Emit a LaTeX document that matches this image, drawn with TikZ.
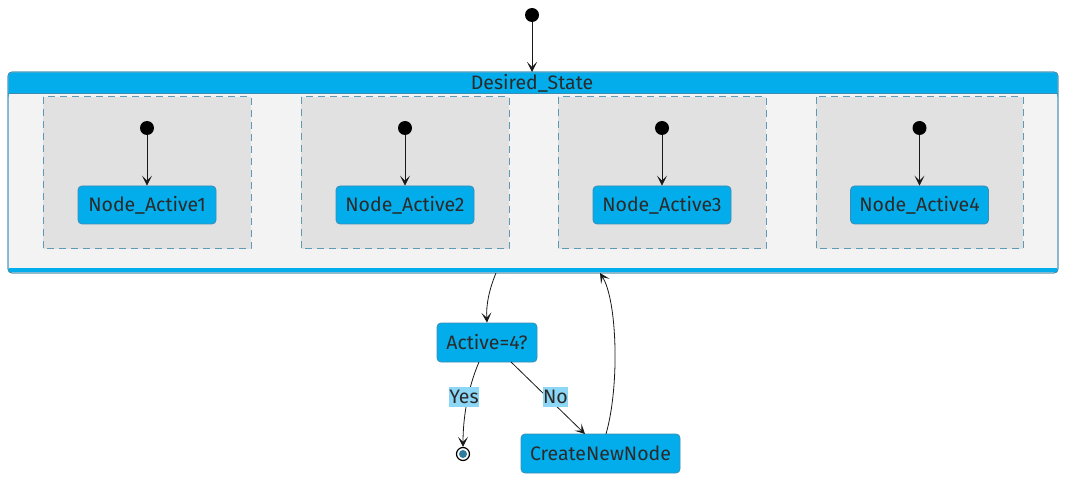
\documentclass[tikz,border=0pt]{standalone}
\usepackage{fontspec}
\setmainfont{Fira Sans}
\usetikzlibrary{arrows.meta}
\definecolor{pblue}{HTML}{03ADEB}
\definecolor{pborder}{HTML}{3C8DB4}
\definecolor{dashc}{HTML}{5E9AB8}
\definecolor{bodyc}{HTML}{F3F3F3}
\definecolor{regc}{HTML}{E1E1E1}
\definecolor{txt}{HTML}{2A2A2A}
\definecolor{lblbg}{HTML}{8CD6F6}
\definecolor{finc}{HTML}{2E7BA0}
\tikzset{
  x=1pt,y=-1pt,
  statebox/.style={draw=pborder, fill=pblue, rounded corners=4pt, line width=0.8pt,
     text=txt, font=\fontsize{19.5}{19.5}\selectfont, inner sep=0pt},
  initdot/.style={circle, fill=black, minimum size=14pt, inner sep=0pt},
  arr/.style={draw=black!90, line width=0.8pt, -{Stealth[length=10pt,width=10pt,inset=5pt]}},
  edgelbl/.style={fill=lblbg, text=txt, font=\fontsize{19.5}{19.5}\selectfont, inner sep=0.5pt, minimum height=20pt},
  region/.style={draw=dashc, fill=regc, dash pattern=on 7pt off 5pt, line width=1pt},
}
\begin{document}
\begin{tikzpicture}
\useasboundingbox (0,0) rectangle (1066,481);
% composite state
\draw[draw=pborder, fill=bodyc, rounded corners=4pt, line width=0.8pt] (8,72) rectangle (1058,273);
\fill[pblue, rounded corners=4pt] (8.4,72.4) rectangle (1057.6,100);
\fill[bodyc] (8.8,93) rectangle (1057.2,100);
\draw[pborder, line width=0.8pt] (8,93) -- (1058,93);
\fill[pblue] (9,268.5) rectangle (1057,272.5);
\draw[draw=pborder, rounded corners=4pt, line width=0.8pt] (8,72) rectangle (1058,273);
\node[text=txt, font=\fontsize{19.5}{19.5}\selectfont] (dstitle) at (532,83) {Desired\_State};
\coordinate (dsTop) at (532,72);
\coordinate (dsBotL) at (496,273);
\coordinate (dsBotR) at (600,273);
% regions
\foreach \i/\xa/\xb in {1/43/251, 2/301/509, 3/558/766, 4/816/1023}{
  \draw[region] (\xa,97) rectangle (\xb,249);
  \node[initdot] (init\i) at ({(\xa+\xb)/2},128) {};
  \node[statebox, minimum width=138pt, minimum height=38pt] (na\i) at ({(\xa+\xb)/2},205) {Node\_Active\i};
  \draw[arr] (init\i) -- (na\i);
}
% top initial
\node[initdot] (init0) at (532,15) {};
\draw[arr] (init0) -- (dsTop);
% lower nodes
\node[statebox, minimum width=100pt, minimum height=39pt] (act) at (487,342.5) {Active=4?};
\node[statebox, minimum width=159pt, minimum height=39pt] (cnn) at (600.5,453.5) {CreateNewNode};
\node[circle, draw=black, line width=1.2pt, fill=white, minimum size=13pt, inner sep=0pt] (fin) at (463,454) {};
\fill[finc] (fin.center) circle (4pt);
\coordinate (actYes) at (479,362);
\coordinate (actNo) at (511,362);
\coordinate (cnnIn) at (585,434);
\coordinate (cnnOut) at (606,434);
% edges
\draw[arr] (dsBotL) .. controls (489,290) and (486,305) .. (act.north);
\draw[arr] (actYes) .. controls (467,390) and (463,420) .. (fin.north);
\draw[arr] (actNo) -- (cnnIn);
\draw[arr] (cnnOut) .. controls (620,385) and (617,300) .. (dsBotR);
\node[edgelbl] (yes) at (464,397) {Yes};
\node[edgelbl] (no) at (555.5,397) {No};
\end{tikzpicture}
\end{document}
